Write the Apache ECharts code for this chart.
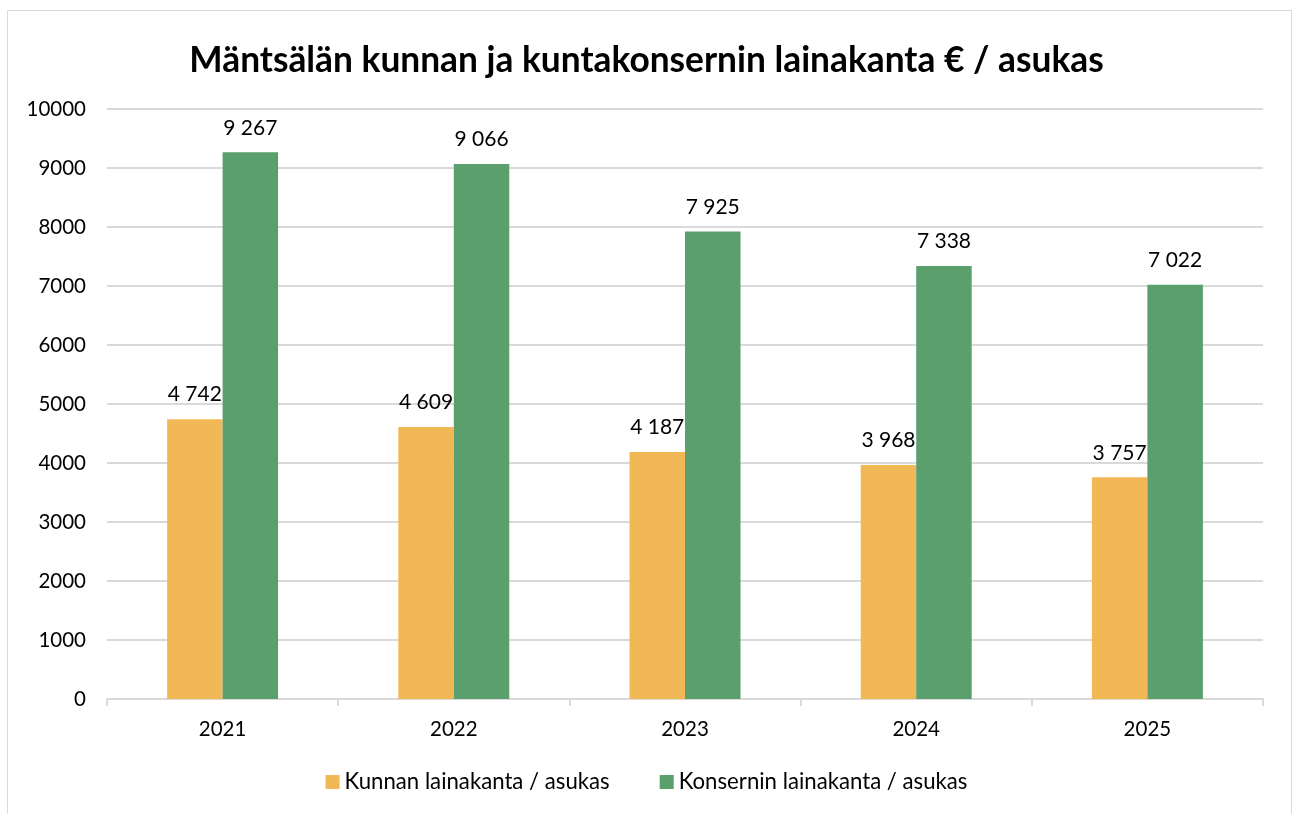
<!DOCTYPE html>
<html>
<head>
<meta charset="utf-8">
<script src="https://cdn.jsdelivr.net/npm/echarts@6/dist/echarts.min.js"></script>
<style>
  html, body { margin: 0; padding: 0; background: #fff; }
  #frame { position: absolute; left: 7px; top: 10px; width: 1285px; height: 820px; border: 1px solid #d9d9d9; box-sizing: border-box; }
  #chart { position: absolute; left: 0; top: 0; width: 1293px; height: 814px; }
</style>
</head>
<body>
<div id="frame"></div>
<div id="chart"></div>
<script>
// data
const years = ['2021', '2022', '2023', '2024', '2025'];
const kunta = [4742, 4609, 4187, 3968, 3757];
const konserni = [9267, 9066, 7925, 7338, 7022];
const seriesNames = ['Kunnan lainakanta / asukas', 'Konsernin lainakanta / asukas'];

const font = 'Lato, "Open Sans", sans-serif';
const fmt = v => String(v.value).replace(/\B(?=(\d{3})+(?!\d))/g, ' ');

const chart = echarts.init(document.getElementById('chart'));
chart.setOption({
  animation: false,
  textStyle: { fontFamily: font, color: '#000' },
  title: {
    text: 'Mäntsälän kunnan ja kuntakonsernin lainakanta € / asukas',
    left: 'center',
    top: 38,
    textStyle: { fontSize: 35.3, fontWeight: 'bold', color: '#000', fontFamily: font }
  },
  legend: {
    bottom: 16,
    left: 'center',
    itemWidth: 14,
    itemHeight: 14,
    itemGap: 50,
    icon: 'rect',
    textStyle: { fontSize: 22.2, color: '#000', fontFamily: font }
  },
  grid: { left: 107, right: 30, top: 109, bottom: 115 },
  xAxis: {
    type: 'category',
    data: years,
    axisLine: { lineStyle: { color: '#d9d9d9', width: 2 } },
    axisTick: { show: true, length: 7, lineStyle: { color: '#d9d9d9', width: 2 } },
    axisLabel: { fontSize: 20.5, color: '#000', margin: 20, fontFamily: font }
  },
  yAxis: {
    type: 'value',
    min: 0,
    max: 10000,
    interval: 1000,
    axisLine: { show: false },
    axisTick: { show: false },
    splitLine: { lineStyle: { color: '#d9d9d9', width: 2 } },
    axisLabel: { fontSize: 20.5, color: '#000', margin: 21, fontFamily: font, formatter: v => String(v) }
  },
  series: [
    {
      name: seriesNames[0],
      type: 'bar',
      data: kunta,
      barGap: '0%',
      barCategoryGap: '52%',
      itemStyle: { color: '#F2B856' },
      label: { show: true, position: 'top', distance: 14, fontSize: 21, color: '#000', formatter: fmt, fontFamily: font }
    },
    {
      name: seriesNames[1],
      type: 'bar',
      data: konserni,
      itemStyle: { color: '#5A9F6C' },
      label: { show: true, position: 'top', distance: 14, fontSize: 21, color: '#000', formatter: fmt, fontFamily: font }
    }
  ]
});
</script>
</body>
</html>
